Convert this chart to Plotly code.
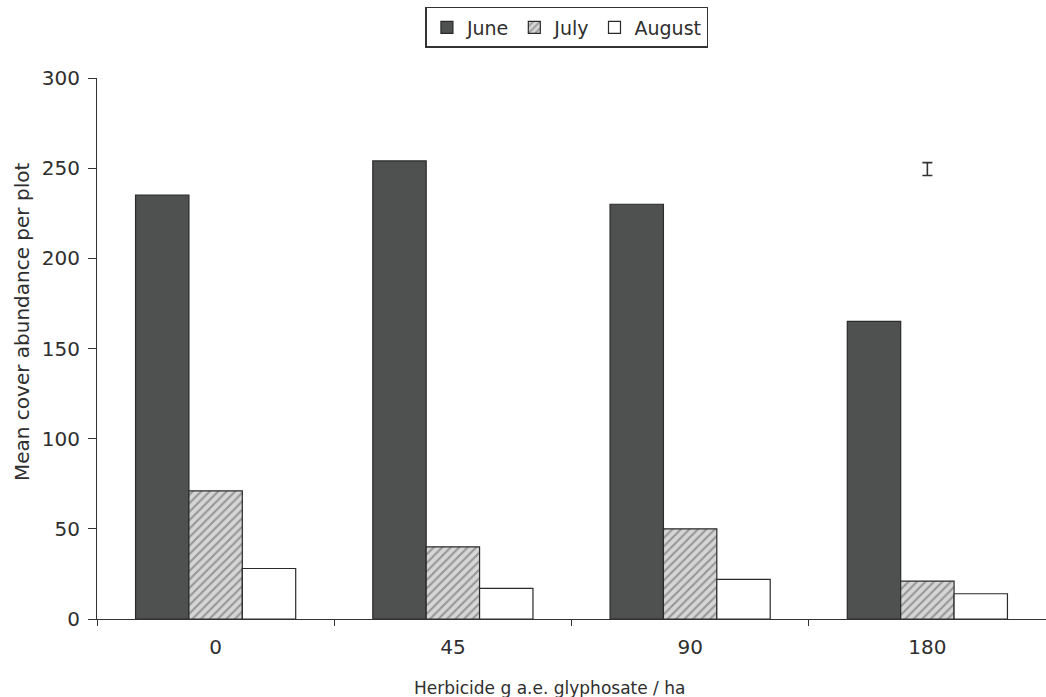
import plotly.graph_objects as go

categories = ["0", "45", "90", "180"]
june = [235, 254, 230, 165]
july = [71, 40, 50, 21]
august = [28, 17, 22, 14]
err_x = ["180"]
err_y = [249.5]
err_half = [3.6]

font_family = "DejaVu Sans, Liberation Sans, Arial, sans-serif"
ink = "#2e2e2e"
fig = go.Figure()
fig.add_trace(go.Bar(
    name="June", x=categories, y=june,
    marker=dict(color="#4f5150", line=dict(color="#2a2a2a", width=1.2)),
))
fig.add_trace(go.Bar(
    name="July", x=categories, y=july,
    marker=dict(color="#ffffff", line=dict(color="#2a2a2a", width=1.2),
                pattern=dict(shape="/", fgcolor="#555555", bgcolor="#d6d6d6", size=6, solidity=0.35)),
))
fig.add_trace(go.Bar(
    name="August", x=categories, y=august,
    marker=dict(color="#ffffff", line=dict(color="#2a2a2a", width=1.2)),
))
fig.add_trace(go.Scatter(
    x=err_x, y=err_y, mode="markers", showlegend=False,
    marker=dict(size=1, color="rgba(0,0,0,0)"),
    error_y=dict(type="data", array=err_half, visible=True, color="#333333", thickness=1.6, width=5),
))

fig.update_layout(
    width=1046, height=697,
    margin=dict(l=97, r=0, t=78, b=78, autoexpand=False),
    paper_bgcolor="white", plot_bgcolor="white",
    barmode="group", bargap=0.325, bargroupgap=0,
    font=dict(family=font_family, size=18, color=ink),
    legend=dict(orientation="h", x=0.542, xanchor="center", xref="container",
                y=0.99, yanchor="top", yref="container",
                bordercolor="#333333", borderwidth=1.5, font=dict(size=19),
                itemwidth=30, traceorder="normal"),
    showlegend=True,
    annotations=[
        dict(text="Herbicide g a.e. glyphosate / ha", xref="paper", yref="paper",
             x=0.477, y=-0.1275, xanchor="center", yanchor="middle", showarrow=False,
             font=dict(size=17)),
        dict(text="Mean cover abundance per plot", xref="paper", yref="paper",
             x=-0.079, y=0.549, xanchor="center", yanchor="middle", showarrow=False,
             textangle=-90, font=dict(size=20)),
    ],
)
fig.update_yaxes(
    range=[0, 300], tickvals=[0, 50, 100, 150, 200, 250, 300],
    ticks="outside", ticklen=8, tickcolor="#333333", ticklabelstandoff=4,
    showline=True, linecolor="#333333", linewidth=1.2, showgrid=False, zeroline=False,
    tickfont=dict(size=20),
)
fig.update_xaxes(
    ticks="outside", ticklen=6, tickson="boundaries", tickcolor="#333333",
    ticklabelstandoff=10,
    showline=True, linecolor="#333333", linewidth=1.2, showgrid=False,
    tickfont=dict(size=20),
)
fig.write_html("out.html")
